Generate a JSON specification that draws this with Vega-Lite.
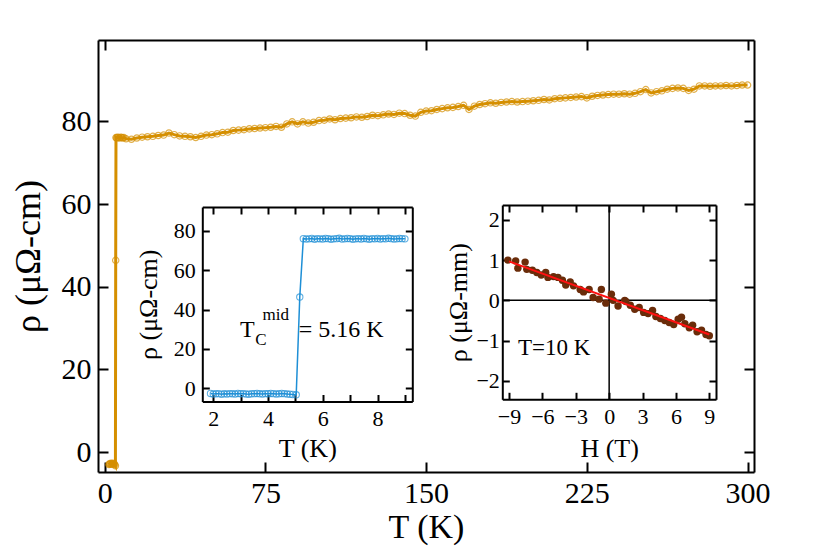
{
  "$schema": "https://vega.github.io/schema/vega-lite/v6.json",
  "width": 656,
  "height": 432,
  "autosize": "none",
  "padding": {"left": 98, "top": 40, "right": 76, "bottom": 88},
  "background": "white",
  "config": {
    "view": {"stroke": null},
    "font": "Liberation Serif",
    "text": {"font": "Liberation Serif", "fontWeight": "normal"},
    "axis": {
      "grid": false, "domainColor": "black", "domainWidth": 2, "tickColor": "black", "tickWidth": 2,
      "labelColor": "black", "titleColor": "black", "labelFont": "Liberation Serif", "titleFont": "Liberation Serif",
      "titleFontWeight": "normal", "labelFontSize": 30, "titleFontSize": 34, "tickSize": -10, "labelPadding": 16,
      "labelFlush": false, "labelOverlap": false
    }
  },
  "datasets": {
    "main": [
      {"T": 2.0, "rho": -3.0}, {"T": 2.3, "rho": -2.8}, {"T": 2.6, "rho": -2.9}, {"T": 2.9, "rho": -2.7}, {"T": 3.2, "rho": -2.9},
      {"T": 3.5, "rho": -2.8}, {"T": 3.8, "rho": -2.7}, {"T": 4.1, "rho": -2.9}, {"T": 4.4, "rho": -2.8}, {"T": 4.7, "rho": -3.0},
      {"T": 5.03, "rho": -3.3}, {"T": 5.16, "rho": 46.4}, {"T": 5.29, "rho": 76.1}, {"T": 5.6, "rho": 76.0}, {"T": 6.0, "rho": 76.2},
      {"T": 6.5, "rho": 76.1}, {"T": 7.0, "rho": 76.0}, {"T": 7.5, "rho": 76.2}, {"T": 8.0, "rho": 76.1}, {"T": 8.5, "rho": 76.0},
      {"T": 9.0, "rho": 76.1}, {"T": 10, "rho": 75.8}, {"T": 12.5, "rho": 75.7}, {"T": 15, "rho": 76.0}, {"T": 17.5, "rho": 76.2},
      {"T": 20, "rho": 76.3}, {"T": 22.5, "rho": 76.4}, {"T": 25, "rho": 76.6}, {"T": 27.5, "rho": 76.7}, {"T": 30, "rho": 77.2},
      {"T": 32.5, "rho": 76.8}, {"T": 35, "rho": 76.5}, {"T": 37.5, "rho": 76.4}, {"T": 40, "rho": 76.3}, {"T": 42.5, "rho": 76.1},
      {"T": 45, "rho": 76.4}, {"T": 47.5, "rho": 76.7}, {"T": 50, "rho": 76.8}, {"T": 52.5, "rho": 77.0}, {"T": 55, "rho": 77.3},
      {"T": 57.5, "rho": 77.4}, {"T": 60, "rho": 77.8}, {"T": 62.5, "rho": 77.9}, {"T": 65, "rho": 78.0}, {"T": 67.5, "rho": 78.2},
      {"T": 70, "rho": 78.3}, {"T": 72.5, "rho": 78.4}, {"T": 75, "rho": 78.5}, {"T": 77.5, "rho": 78.6}, {"T": 80, "rho": 78.8},
      {"T": 82.5, "rho": 78.6}, {"T": 85, "rho": 79.4}, {"T": 87.5, "rho": 79.9}, {"T": 90, "rho": 79.4}, {"T": 92.5, "rho": 79.9},
      {"T": 95, "rho": 79.6}, {"T": 97.5, "rho": 79.8}, {"T": 100, "rho": 80.2}, {"T": 102.5, "rho": 80.3}, {"T": 105, "rho": 80.6},
      {"T": 107.5, "rho": 80.4}, {"T": 110, "rho": 80.7}, {"T": 112.5, "rho": 80.8}, {"T": 115, "rho": 80.9}, {"T": 117.5, "rho": 81.1},
      {"T": 120, "rho": 81.0}, {"T": 122.5, "rho": 81.2}, {"T": 125, "rho": 81.5}, {"T": 127.5, "rho": 81.4}, {"T": 130, "rho": 81.6},
      {"T": 132.5, "rho": 81.8}, {"T": 135, "rho": 81.7}, {"T": 137.5, "rho": 82.0}, {"T": 140, "rho": 81.9}, {"T": 142.5, "rho": 81.5},
      {"T": 145, "rho": 81.3}, {"T": 147.5, "rho": 82.2}, {"T": 150, "rho": 82.5}, {"T": 152.5, "rho": 82.6}, {"T": 155, "rho": 82.9},
      {"T": 157.5, "rho": 83.1}, {"T": 160, "rho": 83.3}, {"T": 162.5, "rho": 83.4}, {"T": 165, "rho": 83.6}, {"T": 167.5, "rho": 83.9},
      {"T": 170, "rho": 82.9}, {"T": 172.5, "rho": 83.7}, {"T": 175, "rho": 84.1}, {"T": 177.5, "rho": 84.3}, {"T": 180, "rho": 84.5},
      {"T": 182.5, "rho": 84.4}, {"T": 185, "rho": 84.6}, {"T": 187.5, "rho": 84.7}, {"T": 190, "rho": 84.8}, {"T": 192.5, "rho": 84.7},
      {"T": 195, "rho": 84.8}, {"T": 197.5, "rho": 84.9}, {"T": 200, "rho": 85.0}, {"T": 202.5, "rho": 85.1}, {"T": 205, "rho": 85.3},
      {"T": 207.5, "rho": 85.2}, {"T": 210, "rho": 85.5}, {"T": 212.5, "rho": 85.6}, {"T": 215, "rho": 85.7}, {"T": 217.5, "rho": 85.8},
      {"T": 220, "rho": 85.9}, {"T": 222.5, "rho": 86.0}, {"T": 225, "rho": 85.7}, {"T": 227.5, "rho": 86.1}, {"T": 230, "rho": 86.3},
      {"T": 232.5, "rho": 86.4}, {"T": 235, "rho": 86.5}, {"T": 237.5, "rho": 86.6}, {"T": 240, "rho": 86.6}, {"T": 242.5, "rho": 86.7},
      {"T": 245, "rho": 86.6}, {"T": 247.5, "rho": 86.8}, {"T": 250, "rho": 87.2}, {"T": 252.5, "rho": 87.7}, {"T": 255, "rho": 86.9},
      {"T": 257.5, "rho": 87.2}, {"T": 260, "rho": 87.4}, {"T": 262.5, "rho": 87.8}, {"T": 265, "rho": 88.0}, {"T": 267.5, "rho": 88.1},
      {"T": 270, "rho": 88.0}, {"T": 272.5, "rho": 87.5}, {"T": 275, "rho": 87.8}, {"T": 277.5, "rho": 88.6}, {"T": 280, "rho": 88.6},
      {"T": 282.5, "rho": 88.5}, {"T": 285, "rho": 88.6}, {"T": 287.5, "rho": 88.6}, {"T": 290, "rho": 88.7}, {"T": 292.5, "rho": 88.6},
      {"T": 295, "rho": 88.7}, {"T": 297.5, "rho": 88.8}, {"T": 300, "rho": 88.8}
    ],
    "inset1": [
      {"T": 1.9, "rho": -2.6}, {"T": 2.0, "rho": -2.9}, {"T": 2.1, "rho": -2.8}, {"T": 2.2, "rho": -2.7}, {"T": 2.3, "rho": -3.0},
      {"T": 2.4, "rho": -2.8}, {"T": 2.5, "rho": -2.9}, {"T": 2.6, "rho": -2.7}, {"T": 2.7, "rho": -2.8}, {"T": 2.8, "rho": -2.9},
      {"T": 2.9, "rho": -2.6}, {"T": 3.0, "rho": -2.8}, {"T": 3.1, "rho": -2.7}, {"T": 3.2, "rho": -2.9}, {"T": 3.3, "rho": -3.0},
      {"T": 3.4, "rho": -2.8}, {"T": 3.5, "rho": -2.7}, {"T": 3.6, "rho": -2.6}, {"T": 3.7, "rho": -2.8}, {"T": 3.8, "rho": -2.9},
      {"T": 3.9, "rho": -2.7}, {"T": 4.0, "rho": -2.8}, {"T": 4.1, "rho": -2.6}, {"T": 4.2, "rho": -2.7}, {"T": 4.3, "rho": -2.9},
      {"T": 4.4, "rho": -2.8}, {"T": 4.5, "rho": -2.6}, {"T": 4.6, "rho": -2.7}, {"T": 4.7, "rho": -2.9}, {"T": 4.8, "rho": -3.0},
      {"T": 4.9, "rho": -3.1}, {"T": 5.03, "rho": -3.3}, {"T": 5.16, "rho": 46.4}, {"T": 5.29, "rho": 76.1},
      {"T": 5.4, "rho": 75.9}, {"T": 5.5, "rho": 76.0}, {"T": 5.6, "rho": 76.2}, {"T": 5.7, "rho": 75.8}, {"T": 5.8, "rho": 76.1},
      {"T": 5.9, "rho": 76.0}, {"T": 6.0, "rho": 75.9}, {"T": 6.1, "rho": 76.2}, {"T": 6.2, "rho": 76.1}, {"T": 6.3, "rho": 75.8},
      {"T": 6.4, "rho": 76.0}, {"T": 6.5, "rho": 76.1}, {"T": 6.6, "rho": 76.3}, {"T": 6.7, "rho": 75.9}, {"T": 6.8, "rho": 76.0},
      {"T": 6.9, "rho": 76.2}, {"T": 7.0, "rho": 76.1}, {"T": 7.1, "rho": 75.8}, {"T": 7.2, "rho": 76.0}, {"T": 7.3, "rho": 76.1},
      {"T": 7.4, "rho": 75.9}, {"T": 7.5, "rho": 76.2}, {"T": 7.6, "rho": 76.0}, {"T": 7.7, "rho": 75.8}, {"T": 7.8, "rho": 76.1},
      {"T": 7.9, "rho": 76.0}, {"T": 8.0, "rho": 76.2}, {"T": 8.1, "rho": 75.9}, {"T": 8.2, "rho": 76.1}, {"T": 8.3, "rho": 76.0},
      {"T": 8.4, "rho": 76.3}, {"T": 8.5, "rho": 76.1}, {"T": 8.6, "rho": 75.9}, {"T": 8.7, "rho": 76.0}, {"T": 8.8, "rho": 76.2},
      {"T": 8.9, "rho": 76.1}, {"T": 9.0, "rho": 76.0}
    ],
    "inset2": [
      {"H": -9.1, "rho": 1.0}, {"H": -8.4, "rho": 0.98}, {"H": -8.2, "rho": 0.8}, {"H": -7.55, "rho": 0.95}, {"H": -7.4, "rho": 0.77},
      {"H": -6.9, "rho": 0.75}, {"H": -6.5, "rho": 0.69}, {"H": -6.1, "rho": 0.63}, {"H": -5.7, "rho": 0.69}, {"H": -5.5, "rho": 0.57},
      {"H": -5.0, "rho": 0.59}, {"H": -4.6, "rho": 0.57}, {"H": -4.2, "rho": 0.5}, {"H": -3.9, "rho": 0.38}, {"H": -3.5, "rho": 0.46},
      {"H": -3.2, "rho": 0.36}, {"H": -2.6, "rho": 0.27}, {"H": -2.3, "rho": 0.21}, {"H": -1.8, "rho": 0.27}, {"H": -1.44, "rho": 0.07},
      {"H": -0.9, "rho": 0.03}, {"H": -0.7, "rho": 0.27}, {"H": -0.3, "rho": -0.07}, {"H": 0.2, "rho": 0.15}, {"H": 0.36, "rho": 0.0},
      {"H": 0.8, "rho": -0.14}, {"H": 1.4, "rho": 0.0}, {"H": 1.5, "rho": -0.03}, {"H": 1.9, "rho": -0.12}, {"H": 2.3, "rho": -0.22},
      {"H": 2.7, "rho": -0.18}, {"H": 3.1, "rho": -0.3}, {"H": 3.5, "rho": -0.33}, {"H": 3.9, "rho": -0.25}, {"H": 4.2, "rho": -0.4},
      {"H": 4.6, "rho": -0.45}, {"H": 5.0, "rho": -0.5}, {"H": 5.4, "rho": -0.55}, {"H": 5.8, "rho": -0.6}, {"H": 6.2, "rho": -0.47},
      {"H": 6.5, "rho": -0.42}, {"H": 6.8, "rho": -0.58}, {"H": 7.2, "rho": -0.68}, {"H": 7.5, "rho": -0.62}, {"H": 7.9, "rho": -0.78},
      {"H": 8.3, "rho": -0.74}, {"H": 8.7, "rho": -0.85}, {"H": 9.0, "rho": -0.88}
    ],
    "fit": [{"H": -9.0, "rho": 0.97}, {"H": 9.0, "rho": -0.85}]
  },
  "resolve": {"scale": {"x": "independent", "y": "independent"}, "axis": {"x": "independent", "y": "independent"}},
  "layer": [
    {
      "data": {"name": "main"},
      "resolve": {"axis": {"x": "independent", "y": "independent"}},
      "layer": [
        {
          "mark": {"type": "line", "color": "#d58f00", "strokeWidth": 3},
          "encoding": {
            "x": {"field": "T", "type": "quantitative", "scale": {"domain": [-3.1, 303], "nice": false, "zero": false},
              "axis": {"orient": "bottom", "values": [0, 75, 150, 225, 300], "title": "T (K)", "titlePadding": 2}},
            "y": {"field": "rho", "type": "quantitative", "scale": {"domain": [-4.8, 99.7], "nice": false, "zero": false},
              "axis": {"orient": "left", "values": [0, 20, 40, 60, 80], "title": "ρ (μΩ-cm)", "titleFontSize": 36, "labelPadding": 17, "titlePadding": 14}}
          }
        },
        {
          "mark": {"type": "point", "shape": "circle", "filled": false, "color": "#d58f00", "size": 40, "strokeWidth": 1.2},
          "encoding": {
            "x": {"field": "T", "type": "quantitative", "axis": {"orient": "top", "values": [0, 75, 150, 225, 300], "labels": false, "title": null}},
            "y": {"field": "rho", "type": "quantitative", "axis": {"orient": "right", "values": [0, 20, 40, 60, 80], "labels": false, "title": null}}
          }
        }
      ]
    },
    {
      "resolve": {"axis": {"x": "independent", "y": "independent"}},
      "layer": [
        {
          "data": {"name": "inset1"},
          "mark": {"type": "line", "color": "#1e8fd6", "strokeWidth": 1.5},
          "encoding": {
            "x": {"field": "T", "type": "quantitative", "scale": {"domain": [1.6, 9.27], "range": [104.3, 314.3], "nice": false, "zero": false},
              "axis": {"orient": "bottom", "offset": -70.5, "values": [2, 3, 4, 5, 6, 7, 8, 9], "labelExpr": "datum.value % 2 == 0 ? datum.label : ''",
                "tickSize": -7, "labelPadding": 14, "labelFontSize": 22, "title": "T (K)", "titleFontSize": 26, "titlePadding": 6}},
            "y": {"field": "rho", "type": "quantitative", "scale": {"domain": [-6.7, 92.2], "range": [361.5, 167], "nice": false, "zero": false},
              "axis": {"orient": "left", "offset": -104.3, "values": [0, 20, 40, 60, 80], "tickSize": -7, "labelPadding": 14, "labelFontSize": 22,
                "title": "ρ (μΩ-cm)", "titleFontSize": 26, "titlePadding": 12}}
          }
        },
        {
          "data": {"name": "inset1"},
          "mark": {"type": "point", "shape": "circle", "filled": false, "color": "#1e8fd6", "size": 40, "strokeWidth": 1.1},
          "encoding": {
            "x": {"field": "T", "type": "quantitative", "axis": {"orient": "top", "offset": -167, "values": [2, 3, 4, 5, 6, 7, 8, 9], "tickSize": -7, "labels": false, "title": null}},
            "y": {"field": "rho", "type": "quantitative", "axis": {"orient": "right", "offset": -341.7, "values": [0, 20, 40, 60, 80], "tickSize": -7, "labels": false, "title": null}}
          }
        },
        {
          "data": {"values": [{}]},
          "mark": {"type": "text", "text": "T", "fontSize": 24, "align": "left", "baseline": "middle", "color": "black"},
          "encoding": {"x": {"datum": 2.98, "type": "quantitative", "axis": null}, "y": {"datum": 29.5, "type": "quantitative", "axis": null}}
        },
        {
          "data": {"values": [{}]},
          "mark": {"type": "text", "text": "C", "fontSize": 17, "align": "left", "baseline": "middle", "color": "black"},
          "encoding": {"x": {"datum": 3.53, "type": "quantitative", "axis": null}, "y": {"datum": 24.5, "type": "quantitative", "axis": null}}
        },
        {
          "data": {"values": [{}]},
          "mark": {"type": "text", "text": "mid", "fontSize": 17, "align": "left", "baseline": "middle", "color": "black"},
          "encoding": {"x": {"datum": 3.8, "type": "quantitative", "axis": null}, "y": {"datum": 37.5, "type": "quantitative", "axis": null}}
        },
        {
          "data": {"values": [{}]},
          "mark": {"type": "text", "text": "= 5.16 K", "fontSize": 24, "align": "left", "baseline": "middle", "color": "black"},
          "encoding": {"x": {"datum": 5.12, "type": "quantitative", "axis": null}, "y": {"datum": 29.5, "type": "quantitative", "axis": null}}
        }
      ]
    },
    {
      "resolve": {"axis": {"x": "independent", "y": "independent"}},
      "layer": [
        {
          "data": {"values": [{}]},
          "mark": {"type": "rule", "color": "black", "strokeWidth": 1.5},
          "encoding": {
            "x": {"datum": 0, "type": "quantitative", "scale": {"domain": [-9.6, 9.6], "range": [404.3, 618], "nice": false, "zero": false},
              "axis": {"orient": "bottom", "offset": -72.7, "values": [-9, -6, -3, 0, 3, 6, 9], "tickSize": -7, "labelPadding": 14, "labelFontSize": 22,
                "title": "H (T)", "titleFontSize": 26, "titlePadding": 8}},
            "y": {"datum": -2.46, "type": "quantitative", "scale": {"domain": [-2.46, 2.37], "range": [359.3, 165], "nice": false, "zero": false},
              "axis": {"orient": "left", "offset": -404.3, "values": [-2, -1, 0, 1, 2], "tickSize": -7, "labelPadding": 10, "labelFontSize": 22,
                "title": "ρ (μΩ-mm)", "titleFontSize": 26, "titlePadding": 4}},
            "y2": {"datum": 2.37}
          }
        },
        {
          "data": {"values": [{}]},
          "mark": {"type": "rule", "color": "black", "strokeWidth": 1.5},
          "encoding": {
            "x": {"datum": -9.6, "type": "quantitative", "axis": null},
            "x2": {"datum": 9.6},
            "y": {"datum": 0, "type": "quantitative", "axis": null}
          }
        },
        {
          "data": {"name": "inset2"},
          "mark": {"type": "circle", "color": "#6a2c0a", "size": 55, "opacity": 1},
          "encoding": {
            "x": {"field": "H", "type": "quantitative", "axis": {"orient": "top", "offset": -165, "values": [-9, -6, -3, 0, 3, 6, 9], "tickSize": -7, "labels": false, "title": null}},
            "y": {"field": "rho", "type": "quantitative", "axis": {"orient": "right", "offset": -38, "values": [-2, -1, 0, 1, 2], "tickSize": -7, "labels": false, "title": null}}
          }
        },
        {
          "data": {"name": "fit"},
          "mark": {"type": "line", "color": "#ff1010", "strokeWidth": 2},
          "encoding": {"x": {"field": "H", "type": "quantitative", "axis": null}, "y": {"field": "rho", "type": "quantitative", "axis": null}}
        },
        {
          "data": {"values": [{}]},
          "mark": {"type": "text", "text": "T=10 K", "fontSize": 23, "align": "left", "baseline": "middle", "color": "black"},
          "encoding": {"x": {"datum": -8.2, "type": "quantitative", "axis": null}, "y": {"datum": -1.19, "type": "quantitative", "axis": null}}
        }
      ]
    }
  ]
}
